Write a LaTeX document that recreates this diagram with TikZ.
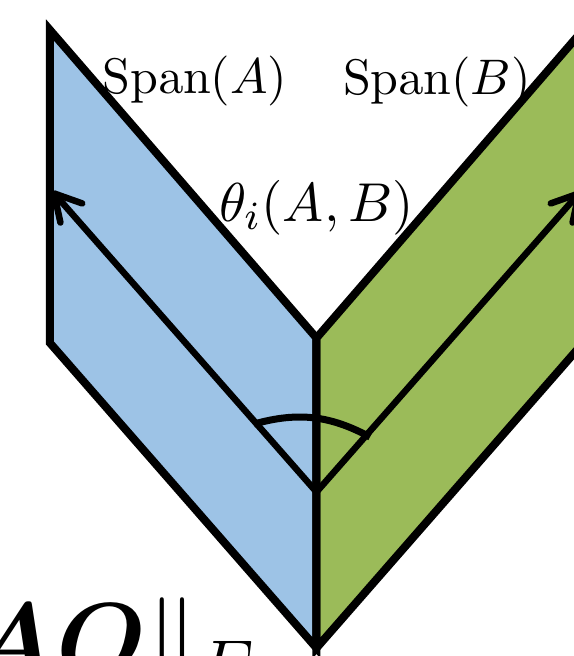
\documentclass[tikz,border=0pt]{standalone}
\usepackage{bm}
\usetikzlibrary{arrows.meta}
\definecolor{spanblue}{HTML}{9DC3E6}
\definecolor{spangreen}{HTML}{9BBB59}

\begin{document}
\begin{tikzpicture}[x=0.2pt,y=-0.2pt,
  face/.style={line width=1.6pt,line join=miter},
  vec/.style={-{Straight Barb[round,length=5.2pt,width=5.8pt]},line width=1.3pt,line cap=round},
  spantext/.style={anchor=base,font=\normalsize}]
  \useasboundingbox (0,0) rectangle (574,656);
  \clip (0,0) rectangle (574,656);
  % corners of the two planes
  \coordinate (atop) at (50,30);
  \coordinate (abot) at (50,343);
  \coordinate (vtop) at (316.5,338);
  \coordinate (vbot) at (316.5,648);
  \coordinate (btop) at (583,30);
  \coordinate (bbot) at (583,343);
  % vectors and angle
  \coordinate (origin) at (316.5,492);
  \coordinate (tipa) at (52,191);
  \coordinate (tipb) at (581,191);
  \coordinate (arca) at (254,424);
  \coordinate (arcb) at (370,437);
  \fill[spanblue] (atop)--(vtop)--(vbot)--(abot)--cycle;
  \fill[spangreen] (vtop)--(btop)--(bbot)--(vbot)--cycle;
  \draw[face] (atop)--(vtop)--(vbot)--(abot)--cycle;
  \draw[face] (vtop)--(btop)--(bbot)--(vbot)--cycle;
  \draw[vec] (origin)--(tipa);
  \draw[vec] (origin)--(tipb);
  \draw[line width=1.4pt] (arca) to[bend left=22] (arcb);
  \node[spantext] (spana) at (195,93) {$\mathrm{Span}(A)$};
  \node[spantext] (spanb) at (437,94) {$\mathrm{Span}(B)$};
  \node[spantext,font=\fontsize{11}{13}\selectfont] (angle) at (316.5,221) {$\theta_i(A,B)$};
  \node[anchor=base west,font=\huge,inner sep=0pt] (norm) at (-35,675) {$\bm{AQ}\|_F$};
\end{tikzpicture}
\end{document}
